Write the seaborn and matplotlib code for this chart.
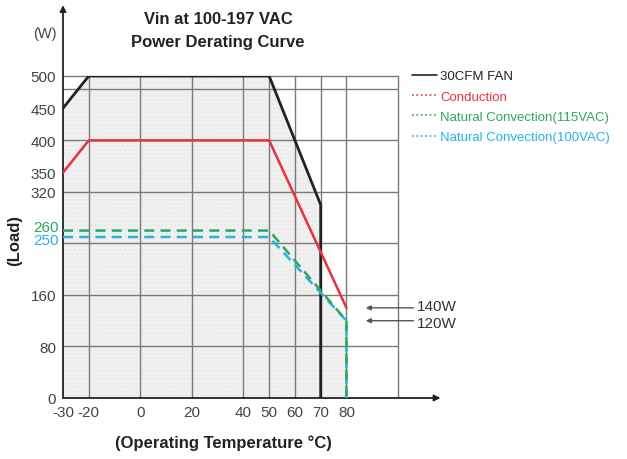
import numpy as np
import matplotlib
matplotlib.use("Agg")
import matplotlib.pyplot as plt
from matplotlib.lines import Line2D
import seaborn as sns

# derating data
temp_fan = [-30, -20, 50, 70, 70]
load_fan = [450, 500, 500, 300, 0]
temp_cond = [-30, -20, 50, 80]
load_cond = [350, 400, 400, 140]
temp_nc115 = [-30, 50, 80, 80]
load_nc115 = [260, 260, 120, 0]
temp_nc100 = [-30, 50, 80, 80]
load_nc100 = [250, 250, 120, 0]

min_loads = [140, 120]
min_labels = ["140W", "120W"]

x_ticks = [-30, -20, 0, 20, 40, 50, 60, 70, 80]
y_ticks = [0, 80, 160, 320, 350, 400, 450, 500]
x_grid = [-20, 0, 20, 40, 50, 60, 70, 80, 100]
y_grid = [80, 160, 240, 320, 400, 480, 500]

C_FAN = "#222222"
C_COND = "#e8323c"
C_115 = "#2fa65a"
C_100 = "#27b2e8"
C_TXT = "#444444"

sns.set_theme(style="white")
plt.rcParams["font.family"] = ["Liberation Sans", "DejaVu Sans"]
plt.rcParams["hatch.linewidth"] = 0.6

fig = plt.figure(figsize=(6.27, 4.6), dpi=100)
ax = fig.add_axes([63 / 627, 1 - 399 / 460, (398 - 63) / 627, (399 - 77) / 460])
ax.set_xlim(-30, 100)
ax.set_ylim(0, 500)
for s in ax.spines.values():
    s.set_visible(False)

# shaded operating area
ax.fill_between(temp_fan[:4], load_fan[:4], 0, color="#f0f0f0", hatch="....",
                edgecolor="#e6e6e6", lw=0, zorder=0)
xs = [70, 80]
ax.fill_between(xs, np.interp(xs, temp_nc115[:3], load_nc115[:3]), 0, color="#f0f0f0",
                hatch="....", edgecolor="#e6e6e6", lw=0, zorder=0)

# grid
for gx in x_grid:
    ax.axvline(gx, color="#7a7a7a", lw=1, zorder=1, clip_on=False)
for gy in y_grid:
    ax.axhline(gy, color="#7a7a7a", lw=1, zorder=1, clip_on=False)

# curves
sns.lineplot(x=temp_fan, y=load_fan, estimator=None, sort=False, color=C_FAN, lw=2, ax=ax, zorder=4)
sns.lineplot(x=temp_cond, y=load_cond, estimator=None, sort=False, color=C_COND, lw=1.8, ax=ax, zorder=4)
sns.lineplot(x=temp_nc115, y=load_nc115, estimator=None, sort=False, color=C_115, lw=1.8,
             ls=(0, (4, 2.5)), ax=ax, zorder=5)
sns.lineplot(x=temp_nc100, y=load_nc100, estimator=None, sort=False, color=C_100, lw=1.8,
             ls=(0, (4, 2.5)), ax=ax, zorder=4)

# axis arrows
ax.annotate("", xy=(116.5, 0), xytext=(-30, 0), annotation_clip=False,
            arrowprops=dict(arrowstyle="-|>", color=C_FAN, lw=1.3, mutation_scale=9, shrinkA=0, shrinkB=0))
ax.annotate("", xy=(-30, 610), xytext=(-30, 0), annotation_clip=False,
            arrowprops=dict(arrowstyle="-|>", color=C_FAN, lw=1.3, mutation_scale=9, shrinkA=0, shrinkB=0))

# ticks
ax.set_xticks(x_ticks)
ax.set_xticklabels([str(t) for t in x_ticks], fontsize=11, color=C_TXT)
ax.set_yticks(y_ticks)
ax.set_yticklabels([str(t) for t in y_ticks], fontsize=11, color=C_TXT)
ax.tick_params(length=0, pad=5)
ax.text(-31.5, 266, "260", color=C_115, fontsize=11, ha="right", va="center")
ax.text(-31.5, 245, "250", color=C_100, fontsize=11, ha="right", va="center")

# min load arrows (labels nudged apart slightly so they don't collide)
for val, lab, nudge in zip(min_loads, min_labels, [3, -3]):
    ax.annotate("", xy=(87.5, val), xytext=(106, val), annotation_clip=False,
                arrowprops=dict(arrowstyle="-|>", color="#555555", lw=1, mutation_scale=7, shrinkA=0, shrinkB=0))
    ax.text(107.5, val + nudge, lab, fontsize=11, color="#333333", va="center", ha="left", clip_on=False)

# legend
handles = [
    Line2D([], [], color=C_FAN, lw=1.2),
    Line2D([], [], color=C_COND, lw=1.2, ls=":"),
    Line2D([], [], color=C_115, lw=1.2, ls=":"),
    Line2D([], [], color=C_100, lw=1.2, ls=":"),
]
labels = ["30CFM FAN", "Conduction", "Natural Convection(115VAC)", "Natural Convection(100VAC)"]
fig.legend(handles, labels, loc="upper left", bbox_to_anchor=(412 / 627, 1 - 71 / 460),
           frameon=False, fontsize=9.5, labelcolor=[C_FAN, C_COND, C_115, C_100],
           handlelength=1.9, handletextpad=0.25, labelspacing=0.62, borderpad=0, borderaxespad=0)

# titles and labels
fig.text(218 / 627, 1 - 20 / 460, "Vin at 100-197 VAC", fontsize=12, fontweight="bold",
         ha="center", va="center", color="#222222")
fig.text(218 / 627, 1 - 43 / 460, "Power Derating Curve", fontsize=12, fontweight="bold",
         ha="center", va="center", color="#222222")
fig.text(45 / 627, 1 - 34 / 460, "(W)", fontsize=10.5, ha="center", va="center", color=C_TXT)
fig.text(15 / 627, 1 - 240 / 460, "(Load)", fontsize=12, fontweight="bold", rotation=90,
         ha="center", va="center", color="#222222")
fig.text(223 / 627, 1 - 443 / 460, "(Operating Temperature °C)", fontsize=12, fontweight="bold",
         ha="center", va="center", color="#222222")

fig.savefig("out.png", dpi=100)
